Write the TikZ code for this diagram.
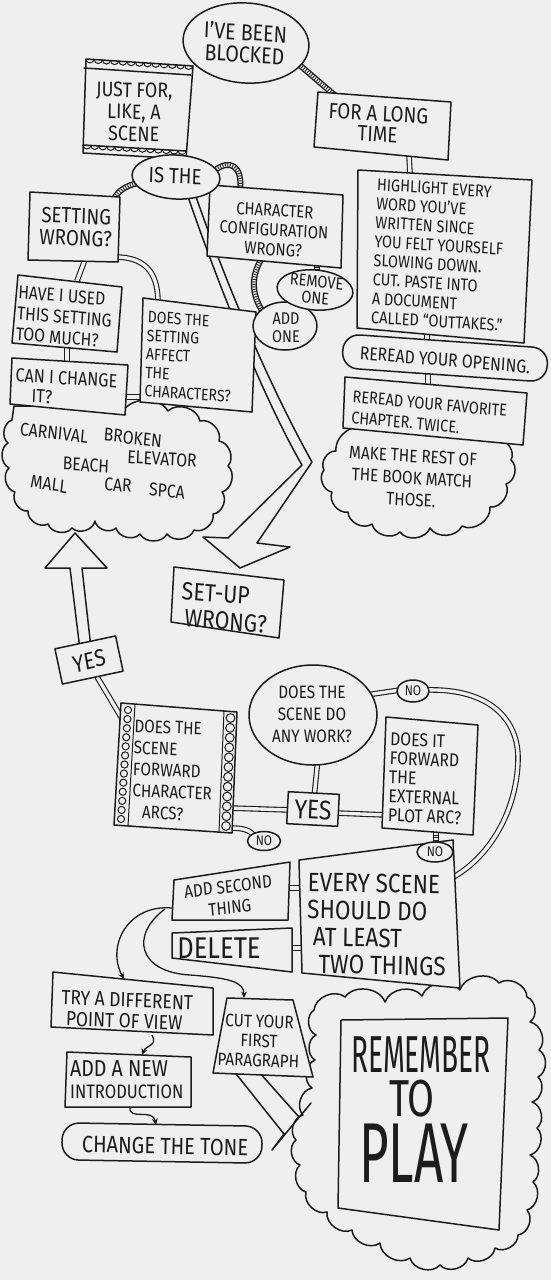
\documentclass[tikz,border=0pt]{standalone}
\usepackage{fontspec}
\usepackage{graphicx}
\setmainfont{Fira Sans}
\usetikzlibrary{shapes.geometric,calc,arrows.meta}
\definecolor{ink}{HTML}{1C1C1C}
\definecolor{paper}{HTML}{EFEFEF}
\newcommand{\fz}[2]{\fontsize{#1}{#2}\selectfont}
\begin{document}
\begin{tikzpicture}[x=1pt,y=-1pt,
 ln/.style={draw=ink,line width=1.5pt,line join=round,line cap=round},
 box/.style={ln,fill=paper},
 puff/.style={bend left=62},
 dbl/.style={draw=ink,line width=1.1pt,double=paper,double distance=3.4pt},
 rope/.style={draw=paper,line width=3.2pt,preaction={draw=ink,line width=6pt},postaction={draw=ink,line width=3.2pt,dash pattern=on 0.9pt off 1.6pt}},
 tx/.style={inner sep=0pt,text=ink,align=center,xscale=0.85},
 txl/.style={tx,align=left,anchor=west},
 oval/.style={ellipse,ln,fill=paper,inner sep=0pt},
 pill/.style={rectangle,rounded corners=16pt,ln,fill=paper,inner sep=0pt},
 rbox/.style={rectangle,ln,fill=paper,inner sep=0pt},
 arr/.style={draw=ink,line width=1.3pt,-{Stealth[length=6.5pt,width=6pt]}},
 film/.style={draw=ink,line width=1pt},
 big/.style={inner sep=0pt,text=ink},
]
\fill[paper] (0,0) rectangle (551,1280);
\useasboundingbox (0,0) rectangle (551,1280);

% ---------- corner coordinates ----------
\coordinate (jfTL) at (84,68); \coordinate (jfTR) at (191,75); \coordinate (jfBR) at (186,151); \coordinate (jfBL) at (83,145);
\coordinate (jfT1) at (86,59); \coordinate (jfT2) at (193,66);
\coordinate (jfB1) at (83,153); \coordinate (jfB2) at (186,159);
\coordinate (ltTL) at (318,92); \coordinate (ltTR) at (451,102); \coordinate (ltBR) at (448,160); \coordinate (ltBL) at (314,147);
\coordinate (hlTL) at (358,170); \coordinate (hlTR) at (532,180); \coordinate (hlBR) at (524,343); \coordinate (hlBL) at (357,328);
\coordinate (fvTL) at (345,377); \coordinate (fvTR) at (527,393); \coordinate (fvBR) at (523,445); \coordinate (fvBL) at (343,428);
\coordinate (stTL) at (30,192); \coordinate (stTR) at (120,197); \coordinate (stBR) at (118,262); \coordinate (stBL) at (28,260);
\coordinate (ccTL) at (210,185); \coordinate (ccTR) at (343,195); \coordinate (ccBR) at (341,268); \coordinate (ccBL) at (207,256);
\coordinate (hvTL) at (18,275); \coordinate (hvTR) at (122,287); \coordinate (hvBR) at (117,352); \coordinate (hvBL) at (12,343);
\coordinate (cnTL) at (12,358); \coordinate (cnTR) at (128,365); \coordinate (cnBR) at (125,415); \coordinate (cnBL) at (10,404);
\coordinate (dsTL) at (143,298); \coordinate (dsTR) at (256,312); \coordinate (dsBR) at (252,412); \coordinate (dsBL) at (140,402);
\coordinate (suTL) at (174,567); \coordinate (suTR) at (284,580); \coordinate (suBR) at (279,638); \coordinate (suBL) at (171,622);
\coordinate (fbTL) at (121,703); \coordinate (fbTR) at (237,712); \coordinate (fbBR) at (232,833); \coordinate (fbBL) at (114,825);
\coordinate (plTL) at (386,717); \coordinate (plTR) at (478,725); \coordinate (plBR) at (473,835); \coordinate (plBL) at (382,828);
\coordinate (evTL) at (299,860); \coordinate (evTR) at (453,840); \coordinate (evBR) at (460,988); \coordinate (evBL) at (302,973);
\coordinate (asTL) at (174,880); \coordinate (asTR) at (290,862); \coordinate (asBR) at (288,920); \coordinate (asBL) at (172,920);
\coordinate (dlTL) at (172,933); \coordinate (dlTR) at (292,928); \coordinate (dlBR) at (292,972); \coordinate (dlBL) at (172,958);
\coordinate (trTL) at (53,972); \coordinate (trTR) at (213,988); \coordinate (trBR) at (213,1035); \coordinate (trBL) at (51,1027);
\coordinate (cuTL) at (227,998); \coordinate (cuTR) at (293,1000); \coordinate (cuBR) at (313,1077); \coordinate (cuBL) at (213,1073);
\coordinate (anTL) at (67,1052); \coordinate (anTR) at (191,1057); \coordinate (anBR) at (191,1107); \coordinate (anBL) at (65,1107);
\coordinate (rmTL) at (341,1020); \coordinate (rmTR) at (508,1018); \coordinate (rmBR) at (499,1230); \coordinate (rmBL) at (338,1208);

% ---------- clouds ----------
\draw[ln,fill=paper] (370,416) -- (498,416) -- (498,440) to[puff] (511,460) to[puff] (506,484) to[puff] (490,507) to[puff] (462,526) to[puff] (430,528) to[puff] (400,532) to[puff] (372,524) to[puff] (348,512) to[puff] (332,492) to[puff] (324,470) to[puff] (336,451) to[puff] (370,428) -- cycle;
\draw[ln,fill=paper] (14,406) -- (122,406) -- (122,413) to[puff] (168,411) to[puff] (200,421) to[puff] (219,441) to[puff] (228,466) to[puff] (222,492) to[puff] (213,514) to[puff] (194,530) to[puff] (167,534) to[puff] (140,534) to[puff] (116,528) to[puff] (95,521) to[puff] (72,528) to[puff] (48,524) to[puff] (28,511) to[puff] (15,492) to[puff] (9,468) to[puff] (8,443) to[puff] (12,420) -- cycle;
\draw[ln,fill=paper] (314,1010) to[puff] (345,997) to[puff] (385,1002) to[puff] (422,996) to[puff] (460,990) to[puff] (499,983) to[puff] (527,997) to[puff] (530,1022) to[puff] (539,1050) to[puff] (538,1077) to[puff] (532,1102) to[puff] (537,1128) to[puff] (530,1155) to[puff] (533,1182) to[puff] (527,1210) to[puff] (518,1235) to[puff] (495,1248) to[puff] (468,1258) to[puff] (440,1265) to[puff] (410,1258) to[puff] (380,1243) to[puff] (352,1230) to[puff] (327,1212) to[puff] (306,1192) to[puff] (300,1165) to[puff] (296,1140) to[puff] (303,1115) to[puff] (312,1088) to[puff] (315,1060) to[puff] (316,1035) to[puff] (314,1010) -- cycle;

% ---------- connectors drawn under shapes ----------
\coordinate (r1a) at (296,62); \coordinate (r1b) at (338,98);
\draw[rope] (r1a) -- (r1b);
\coordinate (r2a) at (138,183); \coordinate (r2b) at (114,199);
\draw[rope] (r2a) .. controls (125,186) and (118,191) .. (r2b);
\coordinate (r3a) at (214,171); \coordinate (r3b) at (240,191);
\draw[rope] (r3a) .. controls (230,158) and (243,166) .. (r3b);
\coordinate (r4a) at (262,258); \coordinate (r4b) at (263,312);
\draw[rope] (r4a) .. controls (251,276) and (251,294) .. (r4b);
\coordinate (r5a) at (317,264); \coordinate (r5b) at (317,275);
\draw[rope] (r5a) -- (r5b);
\coordinate (r6a) at (436,832); \coordinate (r6b) at (436,846);
\draw[rope] (r6a) -- (r6b);

\coordinate (d1a) at (409,156); \coordinate (d1b) at (410,173);
\draw[dbl] (d1a) -- (d1b);
\coordinate (d2a) at (427,330); \coordinate (d2b) at (427,346);
\draw[dbl] (d2a) -- (d2b);
\coordinate (d3a) at (428,370); \coordinate (d3b) at (428,386);
\draw[dbl] (d3a) -- (d3b);
\coordinate (d4a) at (86,257); \coordinate (d4b) at (77,281);
\draw[dbl] (d4a) -- (d4b);
\coordinate (d5a) at (115,257); \coordinate (d5b) at (158,303);
\draw[dbl] (d5a) .. controls (150,257) and (158,278) .. (d5b);
\coordinate (d6a) at (67,348); \coordinate (d6b) at (67,362);
\draw[dbl] (d6a) -- (d6b);
\coordinate (d7a) at (123,397); \coordinate (d7b) at (144,397);
\draw[dbl] (d7a) -- (d7b);
\coordinate (d8a) at (93,670); \coordinate (d8b) at (124,722);
\draw[dbl] (d8a) -- (d8b);
\coordinate (d9a) at (318,758); \coordinate (d9b) at (314,798);
\draw[dbl] (d9a) -- (d9b);
\coordinate (d10a) at (229,808); \coordinate (d10b) at (291,810);
\draw[dbl] (d10a) -- (d10b);
\coordinate (d11a) at (336,813); \coordinate (d11b) at (387,815);
\draw[dbl] (d11a) -- (d11b);
\coordinate (d12a) at (366,695); \coordinate (d12b) at (400,690);
\draw[dbl] (d12a) -- (d12b);
\coordinate (d13a) at (426,690); \coordinate (d13b) at (450,879);
\draw[dbl] (d13a) .. controls (490,688) and (519,720) .. (518,760) .. controls (517,810) and (490,858) .. (d13b);
\coordinate (d14a) at (230,828); \coordinate (d14b) at (255,837);
\draw[dbl] (d14a) .. controls (246,828) and (251,831) .. (d14b);
\coordinate (d15a) at (287,888); \coordinate (d15b) at (303,888);
\draw[dbl] (d15a) -- (d15b);
\coordinate (d16a) at (289,948); \coordinate (d16b) at (305,948);
\draw[dbl] (d16a) -- (d16b);

% ---------- hollow arrows ----------
\draw[ln,fill=paper] (185,188) .. controls (225,305) and (270,410) .. (302,465) -- (228,538) -- (203,537) -- (240,568) -- (290,547) -- (257,543) -- (312,462) .. controls (280,405) and (233,305) .. (193,188);
\draw[ln,fill=paper] (80,650) -- (70,568) -- (45,568) -- (75,533) -- (107,568) -- (82,568) -- (91,648);
\draw[ln] (233,1070) -- (284,1134) -- (272,1150) -- (311,1103);
\draw[ln] (259,1072) -- (299,1117);

% ---------- boxes ----------
\draw[box] (jfT1) -- (jfT2) -- (jfB2) -- (jfB1) -- cycle;
\draw[ln] (jfTL) -- (jfTR); \draw[ln] (jfBL) -- (jfBR);
\foreach \i in {0,...,12} \draw[film] ($(jfT1)!{\i/13}!(jfT2)$) arc[start angle=180,end angle=360,radius=4pt];
\foreach \i in {0,...,12} \draw[film] ($(jfBL)!{\i/13}!(jfBR)$) arc[start angle=180,end angle=360,radius=4pt];
\draw[box] (ltTL) -- (ltTR) -- (ltBR) -- (ltBL) -- cycle;
\draw[box] (hlTL) -- (hlTR) -- (hlBR) -- (hlBL) -- cycle;
\draw[box] (fvTL) -- (fvTR) -- (fvBR) -- (fvBL) -- cycle;
\draw[box] (stTL) -- (stTR) -- (stBR) -- (stBL) -- cycle;
\draw[box] (ccTL) -- (ccTR) -- (ccBR) -- (ccBL) -- cycle;
\draw[box] (hvTL) -- (hvTR) -- (hvBR) -- (hvBL) -- cycle;
\draw[box] (cnTL) -- (cnTR) -- (cnBR) -- (cnBL) -- cycle;
\draw[box] (dsTL) -- (dsTR) -- (dsBR) -- (dsBL) -- cycle;
\draw[box] (suTL) -- (suTR) -- (suBR) -- (suBL) -- cycle;
\draw[box] (fbTL) -- (fbTR) -- (fbBR) -- (fbBL) -- cycle;
\draw[film] (135,704) -- (128,826);
\draw[film] (224,711) -- (219,832);
\foreach \i in {0,...,12} \draw[film] ($(128,710)!{\i/12}!(121,819)$) circle[radius=3.6pt];
\foreach \i in {0,...,11} \draw[film] ($(230.5,718)!{\i/11}!(226,826)$) circle[radius=4.4pt];
\draw[box] (plTL) -- (plTR) -- (plBR) -- (plBL) -- cycle;
\draw[box] (evTL) -- (evTR) -- (evBR) -- (evBL) -- cycle;
\draw[box] (asTL) -- (asTR) -- (asBR) -- (asBL) -- cycle;
\draw[box] (dlTL) -- (dlTR) -- (dlBR) -- (dlBL) -- cycle;
\draw[box] (trTL) -- (trTR) -- (trBR) -- (trBL) -- cycle;
\draw[box] (cuTL) -- (cuTR) -- (cuBR) -- (cuBL) -- cycle;
\draw[box] (anTL) -- (anTR) -- (anBR) -- (anBL) -- cycle;
\draw[box] (rmTL) -- (rmTR) -- (rmBR) -- (rmBL) -- cycle;

% ---------- round shapes ----------
\node[oval,minimum width=126pt,minimum height=80pt,rotate=-4] (blocked) at (246,43) {};
\node[oval,minimum width=88pt,minimum height=44pt,rotate=-3] (isthe) at (176,177) {};
\node[oval,minimum width=64pt,minimum height=48pt] (addone) at (285,326) {};
\node[oval,minimum width=76pt,minimum height=40pt,rotate=-5] (removeone) at (315,290) {};
\node[pill,minimum width=205pt,minimum height=34pt,rotate=-4] (opening) at (445,358) {};
\node[rbox,minimum width=62pt,minimum height=36pt,rotate=12] (yesA) at (89,660) {};
\node[oval,minimum width=128pt,minimum height=100pt] (work) at (313,715) {};
\node[rbox,minimum width=51pt,minimum height=32pt,rotate=-3] (yesB) at (313,809) {};
\node[oval,minimum width=32pt,minimum height=22pt] (noA) at (413,691) {};
\node[oval,minimum width=33pt,minimum height=19pt] (noB) at (264,841) {};
\node[oval,minimum width=36pt,minimum height=20pt] (noC) at (435,852) {};
\node[pill,rounded corners=17pt,minimum width=200pt,minimum height=37pt,rotate=-1] (tone) at (162,1143) {};

% ---------- curved arrows ----------
\coordinate (a1s) at (172,908); \coordinate (a1e) at (124,979);
\draw[arr] (a1s) .. controls (128,904) and (106,946) .. (a1e);
\coordinate (a2s) at (165,909); \coordinate (a2e) at (244,998);
\draw[arr] (a2s) .. controls (130,935) and (138,972) .. (190,975) .. controls (230,978) and (244,982) .. (a2e);
\coordinate (a3s) at (152,1035); \coordinate (a3e) at (142,1055);
\draw[arr] (a3s) .. controls (158,1046) and (146,1045) .. (a3e);
\coordinate (a4s) at (130,1107); \coordinate (a4e) at (156,1125);
\draw[arr] (a4s) .. controls (128,1121) and (153,1108) .. (a4e);

% ---------- texts ----------
\node[tx,font=\fz{23}{22},rotate=-3] (blockedtx) at (245,43) {I'VE BEEN\\BLOCKED};
\node[tx,font=\fz{21}{22},rotate=-1] (jftx) at (134,112) {JUST FOR,\\LIKE, A\\SCENE};
\node[tx,font=\fz{22}{21},rotate=-3] (lttx) at (378,124) {FOR A LONG\\TIME};
\node[txl,font=\fz{17}{19},rotate=-3] (hltx) at (374,251) {HIGHLIGHT EVERY\\WORD YOU'VE\\WRITTEN SINCE\\YOU FELT YOURSELF\\SLOWING DOWN.\\CUT. PASTE INTO\\A DOCUMENT\\CALLED “OUTTAKES.”};
\node[tx,font=\fz{18.5}{20},rotate=-4] (optx) at (445,360) {REREAD YOUR OPENING.};
\node[txl,font=\fz{17}{21},rotate=-4.5] (fvtx) at (352,407) {REREAD YOUR FAVORITE\\CHAPTER. TWICE.};
\node[tx,font=\fz{18}{22},rotate=-3] (mktx) at (412,478) {MAKE THE REST OF\\THE BOOK MATCH\\THOSE.};
\node[tx,font=\fz{22}{22},rotate=-2] (istx) at (175,176) {IS THE};
\node[tx,font=\fz{22}{22},rotate=-2] (sttx) at (76,227) {SETTING\\WRONG?};
\node[tx,font=\fz{17.5}{19.5},rotate=-3] (cctx) at (274,230) {CHARACTER\\CONFIGURATION\\WRONG?};
\node[tx,font=\fz{17}{17},rotate=-5] (rmtx) at (316,290) {REMOVE\\ONE};
\node[tx,font=\fz{17}{18}] (adtx) at (286,328) {ADD\\ONE};
\node[txl,font=\fz{18.5}{21},rotate=-4] (hvtx) at (17,313) {HAVE I USED\\THIS SETTING\\TOO MUCH?};
\node[txl,font=\fz{19}{20},rotate=-3] (cntx) at (15,385) {CAN I CHANGE\\\hspace{20pt}IT?};
\node[txl,font=\fz{16.5}{18.5},rotate=-3] (dstx) at (146,354) {DOES THE\\SETTING\\AFFECT\\THE\\CHARACTERS?};
\node[tx,font=\fz{18.5}{18},rotate=-6] (w1) at (54,433) {CARNIVAL};
\node[tx,font=\fz{18.5}{18},rotate=-6] (w2) at (133,438) {BROKEN};
\node[tx,font=\fz{18.5}{18},rotate=-3] (w3) at (86,465) {BEACH};
\node[tx,font=\fz{18.5}{18},rotate=-3] (w4) at (162,459) {ELEVATOR};
\node[tx,font=\fz{18.5}{18},rotate=-8] (w5) at (49,484) {MALL};
\node[tx,font=\fz{18.5}{18},rotate=-3] (w6) at (118,485) {CAR};
\node[tx,font=\fz{18.5}{18},rotate=-4] (w7) at (167,491) {SPCA};
\node[txl,font=\fz{25}{27},rotate=-4] (sutx) at (181,604) {SET-UP\\\hspace{5pt}WRONG?};
\node[tx,font=\fz{24}{24},rotate=12] (yesAtx) at (89,661) {YES};
\node[txl,font=\fz{18}{21.5},rotate=-2] (fbtx) at (133,769) {DOES THE\\SCENE\\FORWARD\\CHARACTER\\\hspace{12pt}ARCS?};
\node[tx,font=\fz{18}{22}] (worktx) at (312,714) {DOES THE\\SCENE DO\\ANY WORK?};
\node[tx,font=\fz{27}{27},rotate=-3] (yesBtx) at (313,810) {YES};
\node[txl,font=\fz{18.5}{19},rotate=-2] (pltx) at (389,777) {DOES IT\\FORWARD\\THE\\EXTERNAL\\PLOT ARC?};
\node[tx,font=\fz{14}{14}] (noAtx) at (413,691) {NO};
\node[tx,font=\fz{14}{14}] (noBtx) at (264,841) {NO};
\node[tx,font=\fz{14}{14}] (noCtx) at (435,852) {NO};
\node[txl,font=\fz{26.5}{27.3},rotate=-1] (evtx) at (307,923) {EVERY SCENE\\SHOULD DO\\\hspace{7pt}AT LEAST\\\hspace{14pt}TWO THINGS};
\node[tx,font=\fz{18}{21},rotate=6] (astx) at (229,897) {ADD SECOND\\THING};
\node[tx,font=\fz{30}{30}] (dltx) at (219,948) {DELETE};
\node[txl,font=\fz{20.5}{21},rotate=-2] (trtx) at (61,1008) {TRY A DIFFERENT\\\hspace{6pt}POINT OF VIEW};
\node[tx,font=\fz{18}{19.5},rotate=-2] (cutx) at (259,1041) {CUT YOUR\\FIRST\\PARAGRAPH};
\node[txl,font=\fz{23}{23}] (an1) at (70,1069) {ADD A NEW};
\node[txl,font=\fz{19.5}{20}] (an2) at (70,1092) {INTRODUCTION};
\node[tx,font=\fz{23.5}{23},rotate=-1] (tonetx) at (165,1146) {CHANGE THE TONE};
\node[big,font=\fz{52}{52},xscale=0.54] (rm1) at (421,1055) {REMEMBER};
\node[big,font=\fz{52}{52},xscale=0.75] (rm2) at (412,1099) {TO};
\node[big,font=\fz{85}{85},xscale=0.6] (rm3) at (414,1153) {PLAY};
\end{tikzpicture}
\end{document}
